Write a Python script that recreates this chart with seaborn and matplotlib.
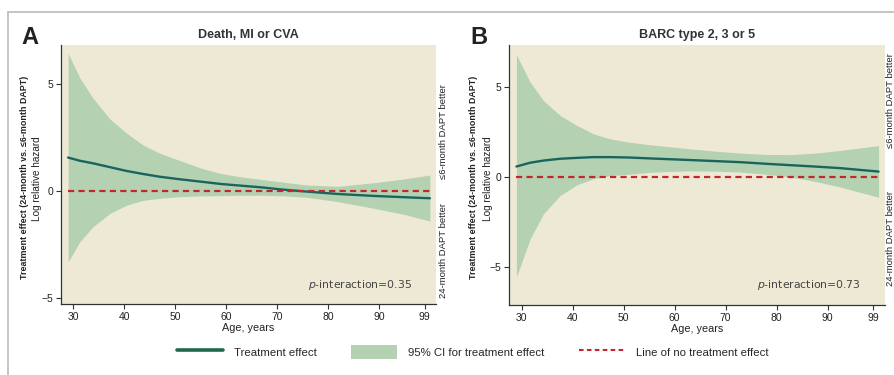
import matplotlib
matplotlib.use("Agg")
import matplotlib.pyplot as plt
from matplotlib.lines import Line2D
from matplotlib.patches import Patch
import seaborn as sns
import pandas as pd

sns.set_theme(style="ticks")
plt.rcParams['font.family'] = ['Liberation Sans', 'DejaVu Sans']

# ---------------- data ----------------
age_a = [29, 31.3, 33.9, 37.2, 40.5, 43.7, 47, 50.6, 55, 59, 63, 67, 71, 76, 82, 89, 95, 100]
effect_a = [1.57, 1.42, 1.30, 1.12, 0.94, 0.80, 0.67, 0.56, 0.44, 0.33, 0.25, 0.17, 0.07, -0.03, -0.14, -0.23, -0.29, -0.34]
upper_a = [6.46, 5.30, 4.35, 3.38, 2.71, 2.16, 1.77, 1.46, 1.08, 0.82, 0.66, 0.54, 0.42, 0.28, 0.22, 0.39, 0.57, 0.75]
lower_a = [-3.32, -2.38, -1.67, -1.05, -0.66, -0.44, -0.34, -0.27, -0.23, -0.22, -0.20, -0.20, -0.22, -0.30, -0.50, -0.81, -1.10, -1.41]

age_b = [29, 31.7, 34.3, 37.6, 40.9, 44.1, 47.4, 51, 55, 58.5, 63, 68, 73, 78, 83, 88, 92.5, 100]
effect_b = [0.57, 0.78, 0.90, 1.00, 1.05, 1.09, 1.09, 1.07, 1.02, 0.98, 0.93, 0.87, 0.81, 0.72, 0.64, 0.56, 0.48, 0.29]
upper_b = [6.75, 5.24, 4.22, 3.39, 2.84, 2.38, 2.10, 1.92, 1.78, 1.68, 1.55, 1.42, 1.31, 1.24, 1.23, 1.32, 1.46, 1.73]
lower_b = [-5.55, -3.43, -2.05, -1.03, -0.44, -0.11, 0.07, 0.14, 0.24, 0.29, 0.33, 0.31, 0.26, 0.14, -0.02, -0.28, -0.57, -1.13]

x_ticks = [30, 40, 50, 60, 70, 80, 90, 99]
y_ticks = [-5, 0, 5]
titles = ["Death, MI or CVA", "BARC type 2, 3 or 5"]
letters = ["A", "B"]
p_labels = [r"$p$-interaction=0.35", r"$p$-interaction=0.73"]
ylims = [(-5.3, 6.85), (-7.1, 7.3)]

BG = "#EDE9D5"
FILL = "#B4D2B2"
LINE = "#19655E"
RED = "#C1272D"
AX = "#333333"

fig = plt.figure(figsize=(8.94, 3.75), dpi=100)
fig.patch.set_facecolor("white")

ax_rects = [[61 / 894, 71 / 375, 375 / 894, 259 / 375],
            [509.3 / 894, 70 / 375, 375.4 / 894, 260 / 375]]

datasets = [(age_a, effect_a, upper_a, lower_a), (age_b, effect_b, upper_b, lower_b)]

for i, (ages, eff, up, lo) in enumerate(datasets):
    ax = fig.add_axes(ax_rects[i])
    ax.set_facecolor(BG)
    df = pd.DataFrame({"age": ages, "effect": eff, "upper": up, "lower": lo})
    ax.fill_between(df["age"], df["lower"], df["upper"], color=FILL, lw=0, zorder=1)
    sns.lineplot(data=df, x="age", y="effect", ax=ax, color=LINE, lw=1.7, zorder=3)
    ax.plot([ages[0], ages[-1]], [0, 0], color=RED, lw=1.6, ls=(0, (2.8, 1.9)), zorder=4)
    ax.set_xlim(27.6, 101.2)
    ax.set_ylim(*ylims[i])
    ax.set_xticks(x_ticks)
    ax.set_yticks(y_ticks)
    ax.set_yticklabels(["\u22125", "0", "5"])
    ax.tick_params(axis="both", labelsize=7.5, length=3.5, width=0.8, color=AX,
                   labelcolor="#222222", pad=2)
    for s in ["top", "right"]:
        ax.spines[s].set_visible(False)
    for s in ["left", "bottom"]:
        ax.spines[s].set_color(AX)
        ax.spines[s].set_linewidth(0.9)
    ax.set_xlabel("Age, years", fontsize=7.8, color="#222222", labelpad=1)
    ax.set_ylabel("")
    ax.set_title(titles[i], fontsize=9, fontweight="bold", color="#333333", pad=5)
    ax.text(0.935, 0.075, p_labels[i], transform=ax.transAxes, ha="right", va="center",
            fontsize=7.8, color="#444444", family=["DejaVu Sans"])

# y labels
for xa, xb in [(25, 37), (474, 488)]:
    fig.text(xa / 894, 1 - 177 / 375, "Treatment effect (24-month vs. \u22646-month DAPT)",
             rotation=90, ha="center", va="center", fontsize=6.4, fontweight="bold",
             color="#222222")
    fig.text(xb / 894, 1 - 179 / 375, "Log relative hazard", rotation=90, ha="center",
             va="center", fontsize=7.2, color="#222222")

# right side annotations
for x, yu, yl in [(443, 132, 251), (890.5, 101, 239)]:
    fig.text(x / 894, 1 - yu / 375, "\u22646-month DAPT better", rotation=90, ha="center",
             va="center", fontsize=6.8, color="#222222")
    fig.text(x / 894, 1 - yl / 375, "24-month DAPT better", rotation=90, ha="center",
             va="center", fontsize=6.8, color="#222222")

# panel letters
for x, l in [(21, "A"), (470, "B")]:
    fig.text(x / 894, 1 - 38 / 375, l, ha="left", va="center", fontsize=17,
             fontweight="bold", color="#222222")

# frame lines
fig.add_artist(Line2D([8 / 894, 1], [1 - 12 / 375, 1 - 12 / 375], color="#BBBBBB", lw=1.2))
fig.add_artist(Line2D([8 / 894, 8 / 894], [0, 1 - 12 / 375], color="#BBBBBB", lw=1.2))

handles = [Line2D([], [], color="#1D6A4C", lw=2.6),
           Patch(facecolor=FILL, edgecolor="none"),
           Line2D([], [], color=RED, lw=1.5, ls=(0, (2.2, 1.6)))]
labels = ["Treatment effect", "95% CI for treatment effect", "Line of no treatment effect"]
fig.legend(handles, labels, ncol=3, loc="center", bbox_to_anchor=(473 / 894, 1 - 352 / 375),
           frameon=False, fontsize=8.2, handlelength=4.0, handleheight=1.5,
           handletextpad=1.0, columnspacing=3.0)

fig.savefig("out.png", dpi=100)
